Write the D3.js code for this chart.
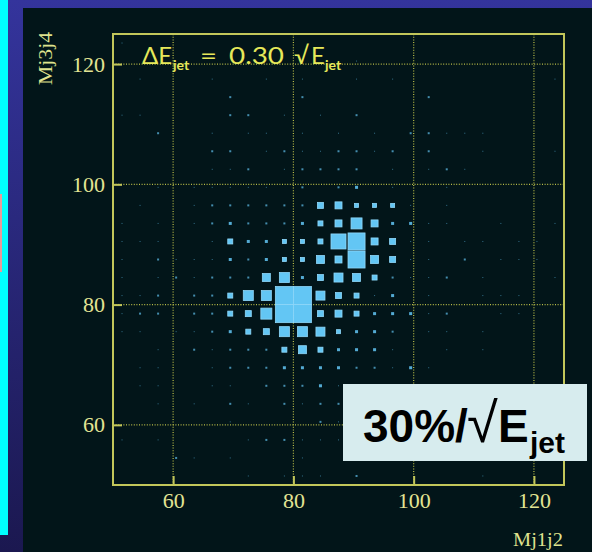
<!DOCTYPE html>
<html>
<head>
<meta charset="utf-8">
<script src="https://cdn.jsdelivr.net/npm/d3@7"></script>
<style>
  body { margin: 0; background: #2b2b86; }
  svg { display: block; }
</style>
</head>
<body>
<svg id="chart"></svg>
<script>
var width = 592;
var height = 552;

// bin edges for both axes (GeV), 3 GeV bins
var xEdges = d3.range(50, 126, 3);
var yEdges = d3.range(50, 126, 3);
var xTicks = [60, 80, 100, 120];
var yTicks = [60, 80, 100, 120];

// bin contents, top row (y bin 24) first, left to right (x bin 0..24)
var counts = [
  [1,0,0,0,0,0,0,0,0,0,0,0,0,0,0,0,0,0,0,0,0,0,0,0,0],
  [0,0,0,0,0,0,0,0,0,0,0,0,0,1,0,0,0,0,0,0,0,0,0,0,0],
  [0,1,0,0,0,1,0,0,1,0,1,0,0,1,0,1,0,0,0,0,0,0,0,0,1],
  [0,0,0,0,0,0,2,0,0,0,2,0,0,0,0,0,0,2,0,0,0,0,0,0,0],
  [1,1,0,0,0,0,2,2,0,1,0,1,0,2,0,0,0,0,0,0,0,0,0,0,0],
  [0,0,2,0,0,1,0,1,1,0,1,0,1,0,1,0,2,2,1,1,1,0,0,0,0],
  [0,0,0,0,0,2,2,0,1,2,1,1,2,2,1,2,0,2,0,0,1,0,0,0,1],
  [0,0,0,0,0,1,1,2,0,1,2,2,2,2,0,1,0,1,2,1,0,0,0,0,0],
  [0,0,1,0,1,1,1,1,1,0,2,0,2,3,0,1,0,0,1,0,0,0,0,0,0],
  [0,1,0,0,1,2,2,2,2,2,2,6,7,4,4,4,1,0,1,0,0,0,0,0,0],
  [1,0,1,0,1,2,3,2,2,2,3,5,7,11,7,3,3,1,1,0,0,1,0,0,1],
  [1,1,1,0,0,1,5,3,3,4,4,5,15,17,7,6,1,1,0,1,1,0,1,1,0],
  [1,0,2,1,1,1,3,2,3,4,4,8,7,17,8,6,1,1,0,2,0,1,1,1,0],
  [1,0,1,2,1,2,2,2,8,10,3,6,9,8,5,2,1,1,2,0,1,0,0,0,1],
  [1,1,2,0,2,2,5,10,10,18,18,9,6,5,1,3,0,1,0,0,1,1,1,0,0],
  [1,2,2,0,2,2,5,6,11,18,18,6,7,5,3,3,3,1,2,0,0,1,1,0,0],
  [1,1,0,1,1,2,3,5,6,10,10,9,4,3,3,2,0,1,1,0,1,0,0,0,0],
  [0,0,1,0,2,1,2,2,2,5,8,5,3,3,3,1,0,0,1,0,1,0,0,0,0],
  [0,1,1,0,0,1,2,2,2,3,3,3,3,2,2,1,3,1,0,0,0,0,0,0,0],
  [0,1,1,0,0,1,1,0,2,2,2,3,1,0,0,0,0,0,0,0,0,0,0,0,0],
  [0,0,1,0,1,0,2,1,0,2,1,2,2,0,0,0,0,0,0,0,0,0,0,0,0],
  [0,0,0,0,0,0,1,0,0,0,0,2,1,0,0,0,0,0,0,0,0,0,0,0,0],
  [1,0,1,0,0,0,0,1,2,2,1,1,1,0,0,0,0,0,0,0,0,0,0,0,0],
  [0,0,0,2,1,0,1,0,0,0,1,0,0,0,0,0,0,0,0,0,0,0,0,0,0],
  [0,0,0,0,0,0,0,1,0,1,1,1,0,2,0,0,0,0,0,0,1,0,0,0,0]
];

var svg = d3.select("#chart")
    .attr("width", width)
    .attr("height", height);

// slide background
var defs = svg.append("defs");
var grad = defs.append("linearGradient")
    .attr("id", "slidebg")
    .attr("x1", 0).attr("y1", 0).attr("x2", 0).attr("y2", 1);
grad.append("stop").attr("offset", "0%").attr("stop-color", "#34349c");
grad.append("stop").attr("offset", "100%").attr("stop-color", "#1b1850");

svg.append("rect")
    .attr("width", width).attr("height", height)
    .attr("fill", "url(#slidebg)");
svg.append("rect")
    .attr("x", 0).attr("y", 0).attr("width", 8).attr("height", 535)
    .attr("fill", "#00ffff");
svg.append("rect")
    .attr("x", 0).attr("y", 194).attr("width", 2).attr("height", 78)
    .attr("fill", "#e89a9a");
svg.append("rect")
    .attr("x", 23).attr("y", 8).attr("width", width - 23).attr("height", height - 8)
    .attr("fill", "#021519");

var x = d3.scaleLinear().domain([50, 125]).range([113, 564]);
var y = d3.scaleLinear().domain([50, 125]).range([485, 34]);

var binW = x(xEdges[1]) - x(xEdges[0]);
var maxCount = d3.max(counts, function(r){ return d3.max(r); });
var side = d3.scaleLinear().domain([0, maxCount]).range([0, binW]);

var g = svg.append("g");

// dotted grid
g.selectAll(".gx")
    .data(xTicks)
    .enter()
    .append("line")
    .attr("x1", function(d){ return x(d); })
    .attr("x2", function(d){ return x(d); })
    .attr("y1", y(50)).attr("y2", y(125))
    .attr("stroke", "#b8bc48")
    .attr("stroke-width", 1.2)
    .attr("stroke-dasharray", "1,1.6");
g.selectAll(".gy")
    .data(yTicks)
    .enter()
    .append("line")
    .attr("y1", function(d){ return y(d); })
    .attr("y2", function(d){ return y(d); })
    .attr("x1", x(50)).attr("x2", x(125))
    .attr("stroke", "#b8bc48")
    .attr("stroke-width", 1.2)
    .attr("stroke-dasharray", "1,1.6");

// flatten bins
var cells = [];
counts.forEach(function(row, r){
  var j = counts.length - 1 - r;
  row.forEach(function(c, i){
    if (c > 0) cells.push({ i: i, j: j, c: c });
  });
});

g.selectAll("rect.bin")
    .data(cells)
    .enter()
    .append("rect")
    .attr("class", "bin")
    .attr("x", function(d){ return x(xEdges[d.i] + 1.5) - side(d.c) / 2; })
    .attr("y", function(d){ return y(yEdges[d.j] + 1.5) - side(d.c) / 2; })
    .attr("width", function(d){ return Math.max(1, side(d.c)); })
    .attr("height", function(d){ return Math.max(1, side(d.c)); })
    .attr("fill", "#63c6f4")
    .attr("fill-opacity", function(d){ return Math.min(1, 0.35 + side(d.c) / 6); })
    .attr("stroke", function(d){ return side(d.c) > 4 ? "#8fd8fa" : "none"; })
    .attr("stroke-width", 0.8);

// frame
svg.append("rect")
    .attr("x", x(50)).attr("y", y(125))
    .attr("width", x(125) - x(50)).attr("height", y(50) - y(125))
    .attr("fill", "none")
    .attr("stroke", "#c2c65a")
    .attr("stroke-width", 2);

// axes, ticks pointing inward
var xAxis = svg.append("g")
    .attr("transform", "translate(0," + y(50) + ")")
    .call(d3.axisBottom(x).tickValues(xTicks).tickSize(-9).tickPadding(7));
var yAxis = svg.append("g")
    .attr("transform", "translate(" + x(50) + ",0)")
    .call(d3.axisLeft(y).tickValues(yTicks).tickSize(-9).tickPadding(8));

[xAxis, yAxis].forEach(function(a){
  a.select(".domain").remove();
  a.selectAll(".tick line").attr("stroke", "#c2c65a").attr("stroke-width", 2);
  a.selectAll(".tick text")
      .attr("fill", "#e2e494")
      .style("font-family", "'Liberation Serif', 'DejaVu Serif', serif")
      .style("font-size", "22px");
});

// axis titles
svg.append("text")
    .attr("transform", "translate(52,85) rotate(-90)")
    .attr("fill", "#dfe28e")
    .attr("textLength", 53)
    .attr("lengthAdjust", "spacingAndGlyphs")
    .style("font-family", "'Liberation Serif', serif")
    .style("font-size", "19px")
    .text("Mj3j4");
svg.append("text")
    .attr("x", 513).attr("y", 546)
    .attr("fill", "#dfe28e")
    .attr("textLength", 50)
    .attr("lengthAdjust", "spacingAndGlyphs")
    .style("font-family", "'Liberation Serif', serif")
    .style("font-size", "19px")
    .text("Mj1j2");

// resolution label in the plot
var t = svg.append("text")
    .attr("y", 64)
    .attr("fill", "#e6e85a")
    .style("font-family", "Lato, 'Open Sans', sans-serif")
    .style("font-size", "24px");
t.append("tspan").attr("x", 142).attr("textLength", 30).attr("lengthAdjust", "spacingAndGlyphs").text("ΔE");
t.append("tspan").attr("x", 173).attr("dy", 6).style("font-size", "14px").style("font-weight", "bold").text("jet");
t.append("tspan").attr("x", 200).attr("dy", -6).attr("textLength", 17).attr("lengthAdjust", "spacingAndGlyphs").text("=");
t.append("tspan").attr("x", 229).attr("textLength", 55).attr("lengthAdjust", "spacingAndGlyphs").text("0.30");
t.append("tspan").attr("x", 294).text("√");
t.append("tspan").attr("x", 311).text("E");
t.append("tspan").attr("x", 325).attr("dy", 6).style("font-size", "14px").style("font-weight", "bold").text("jet");

// overlay box
svg.append("rect")
    .attr("x", 343).attr("y", 384)
    .attr("width", 244).attr("height", 77)
    .attr("fill", "#d7ecee");
var a = svg.append("text")
    .attr("y", 442)
    .attr("fill", "#000")
    .style("font-family", "'Liberation Sans', Arial, sans-serif")
    .style("font-size", "46px")
    .style("font-weight", "bold");
a.append("tspan").attr("x", 363).text("30%/");
a.append("tspan").attr("x", 467).style("font-weight", "normal").style("font-size", "56px").text("√");
a.append("tspan").attr("x", 498).text("E");
a.append("tspan").attr("x", 530).attr("dy", 11).style("font-size", "30px").text("jet");
</script>
</body>
</html>
